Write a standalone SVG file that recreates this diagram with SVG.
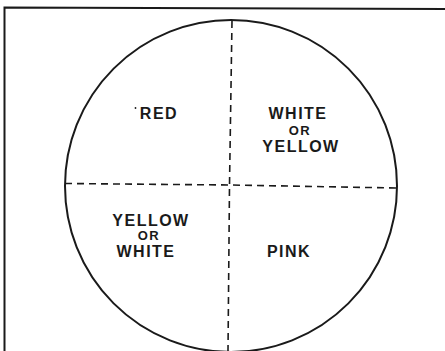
<svg xmlns="http://www.w3.org/2000/svg" width="445" height="351" viewBox="0 0 445 351">
<style>
.ln{stroke:#1a1a1a;fill:none;stroke-width:2}
.dash{stroke:#1a1a1a;fill:none;stroke-width:1.6;stroke-dasharray:7,5}
text{font-family:"Liberation Sans",Arial,sans-serif;font-weight:bold;fill:#1a1a1a;text-anchor:middle;letter-spacing:1.5px}
.big{font-size:16px}
.sm{font-size:13px}
</style>
<rect width="445" height="351" fill="#ffffff"/>
<g id="frame">
<path class="ln" d="M4.5,351 L4.5,7.5 L445,9"/>
</g>
<g id="circle">
<circle class="ln" cx="231" cy="186" r="166"/>
</g>
<g id="connectors">
<path class="dash" d="M232,21 L229.5,185 L228,351"/>
<path class="dash" d="M65,183.5 L229.5,185 L397,188"/>
</g>
<g id="red"><circle cx="135.5" cy="108" r="0.9" fill="#1a1a1a"/><text class="big" x="159" y="119">RED</text></g>
<g id="white-or-yellow">
<text class="big" x="298" y="119">WHITE</text>
<text class="sm" x="300" y="135">OR</text>
<text class="big" x="301" y="152">YELLOW</text>
</g>
<g id="yellow-or-white">
<text class="big" x="151" y="226">YELLOW</text>
<text class="sm" x="149" y="240">OR</text>
<text class="big" x="146" y="257">WHITE</text>
</g>
<g id="pink"><text class="big" x="289" y="257">PINK</text></g>
</svg>
